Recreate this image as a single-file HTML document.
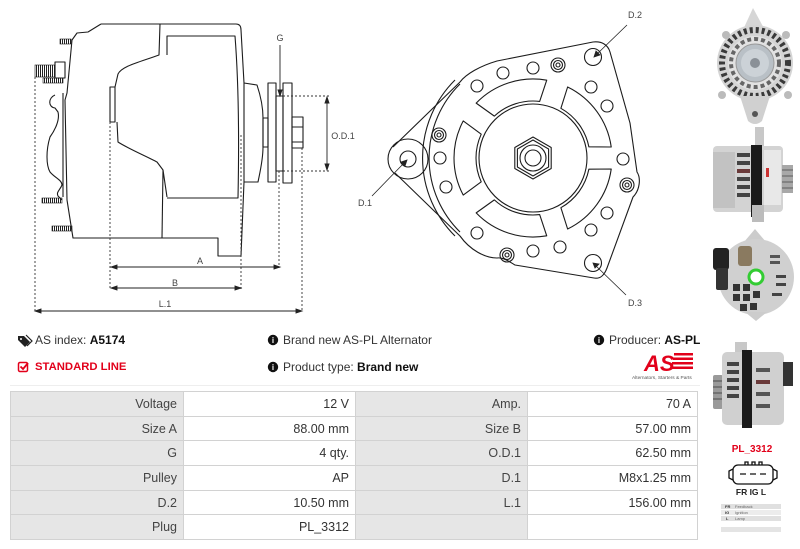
<!DOCTYPE html>
<html><head><meta charset="utf-8">
<style>
html,body{margin:0;padding:0;background:#fff;}
#p{position:relative;width:800px;height:549px;overflow:hidden;font-family:"Liberation Sans",sans-serif;background:#fff;}
.t{position:absolute;white-space:nowrap;font-size:12px;color:#333;line-height:14px;}
.t b{color:#111;}
.c{position:absolute;box-sizing:border-box;border:1px solid #d2d2d2;font-size:12.5px;display:flex;align-items:center;justify-content:flex-end;padding-right:6px;color:#444;}
.l{background:#e6e6e6;}
.v{background:#fff;color:#333;}
</style></head><body><div id="p">
<svg width="800" height="549" viewBox="0 0 800 549" style="position:absolute;left:0;top:0" xmlns="http://www.w3.org/2000/svg">
<defs>
<pattern id="th" width="2" height="4" patternUnits="userSpaceOnUse"><rect width="1" height="4" fill="#222"/></pattern>
</defs>
<!-- LEFT DRAWING -->
<g fill="none" stroke="#1c1c1c" stroke-width="1.1" stroke-linejoin="round">
<path d="M101,24 L236,24 Q241,24 241,30 L244,83"/>
<path d="M244,182 L241,256 L218,256 L218,238 L73,238 L67,200 L65,100 L67,93 L72,40 L77,33 L88,32 L101,24"/>
<path d="M160,24 L159,55 C140,62 122,66 118,74 L115,87"/>
<rect x="110" y="87" width="5" height="35"/>
<path d="M117,122 L118,142 C127,148 150,158 157,162 L163,170 L167,197"/>
<path d="M163,170 L162,238"/>
<path d="M167,55 L167,36 L235,36 Q240,100 238,198 L167,198"/>
<path d="M244,83 L257,85 C262,100 263,110 263,118 L263,147 C263,160 260,172 258,182 L244,182 Z"/>
<rect x="263" y="118" width="5" height="29"/>
<rect x="268" y="83" width="8" height="99"/>
<rect x="276" y="96" width="7" height="75"/>
<rect x="283" y="83" width="9" height="100"/>
<rect x="292" y="117" width="11" height="31"/>
<path d="M292,127 L303,127 M292,142 L303,142"/>
<path d="M63,93 L63,197"/>
<path d="M55,95 C48,98 48,107 55,108 L58,112 C60,120 55,130 50,137 C46,150 46,165 50,172 C55,178 62,180 62,185 C60,190 56,192 58,196 L62,200"/>
<rect x="55" y="62" width="10" height="16"/>
</g>
<g stroke="#1c1c1c" stroke-width="0.6">
<rect x="60" y="39" width="11" height="5" fill="url(#th)"/>
<rect x="35" y="65" width="20" height="12" fill="url(#th)"/>
<rect x="43" y="78" width="20" height="5" fill="url(#th)"/>
<rect x="42" y="198" width="20" height="5" fill="url(#th)"/>
<rect x="52" y="226" width="20" height="5" fill="url(#th)"/>
</g>
<g fill="none" stroke="#333" stroke-width="0.9" stroke-dasharray="2,2">
<path d="M35,77 L35,312 M110,122 L110,290 M241,135 L241,290 M279,171 L279,268 M302,148 L302,312 M283,96 L330,96 M283,171 L330,171"/>
</g>
<g stroke="#222" stroke-width="0.9" fill="#222">
<path d="M113,267 L278,267 M113,288 L239,288 M37,311 L300,311 M280,45 L280,93 M327,99 L327,168" fill="none"/>
<polygon points="111,267 117,265 117,269"/><polygon points="280,267 274,265 274,269"/>
<polygon points="111,288 117,286 117,290"/><polygon points="241,288 235,286 235,290"/>
<polygon points="35,311 41,309 41,313"/><polygon points="302,311 296,309 296,313"/>
<polygon points="280,96 278,90 282,90"/>
<polygon points="327,97 325,103 329,103"/><polygon points="327,170 325,164 329,164"/>
</g>
<g font-family="Liberation Sans, sans-serif" font-size="9" fill="#444" text-anchor="middle">
<text x="280" y="41">G</text>
<text x="200" y="264">A</text>
<text x="175" y="286">B</text>
<text x="165" y="307">L.1</text>
<text x="343" y="139">O.D.1</text>
<text x="635" y="18">D.2</text>
<text x="365" y="206">D.1</text>
<text x="635" y="306">D.3</text>
</g>
<!-- MIDDLE DRAWING -->
<g fill="none" stroke="#1c1c1c" stroke-width="1.1" stroke-linejoin="round">
<path d="M393,147 L460,82 C466,74 480,66 497,61 L593,42 C602,41 608,45 610,52 L630,123 L637,172 C641,178 640,190 633,197 L607,268 C604,276 600,279 594,278 L515,265 C510,262 503,257 497,258 C485,258 470,250 460,236 L395,173"/>
<circle cx="408" cy="159" r="20"/>
<circle cx="408" cy="159" r="8"/>
<path d="M460,84 A104,104 0 0,0 460,232"/>
<path d="M455,80 A110,110 0 0,0 455,236"/>
<circle cx="533" cy="158" r="54"/>
<g transform="translate(533,158)">
<path d="M0,-21 L18.2,-10.5 L18.2,10.5 L0,21 L-18.2,10.5 L-18.2,-10.5 Z"/>
<path d="M0,-18 L15.6,-9 L15.6,9 L0,18 L-15.6,9 L-15.6,-9 Z"/>
<circle r="13"/><circle r="8"/>
<path d="M69.75,-37.09 A79,79 0 0,1 69.75,37.09 L51.78,23.82 A57,57 0 0,0 51.78,-23.82 Z" transform="rotate(180)"/>
<path d="M69.75,-37.09 A79,79 0 0,1 69.75,37.09 L51.78,23.82 A57,57 0 0,0 51.78,-23.82 Z" transform="rotate(252)"/>
<path d="M69.75,-37.09 A79,79 0 0,1 69.75,37.09 L51.78,23.82 A57,57 0 0,0 51.78,-23.82 Z" transform="rotate(324)"/>
<path d="M69.75,-37.09 A79,79 0 0,1 69.75,37.09 L51.78,23.82 A57,57 0 0,0 51.78,-23.82 Z" transform="rotate(36)"/>
<path d="M69.75,-37.09 A79,79 0 0,1 69.75,37.09 L51.78,23.82 A57,57 0 0,0 51.78,-23.82 Z" transform="rotate(108)"/>
</g>
<circle cx="503" cy="73" r="6"/><circle cx="533" cy="68" r="6"/><circle cx="477" cy="86" r="6"/>
<circle cx="591" cy="87" r="6"/><circle cx="607" cy="106" r="6"/><circle cx="440" cy="158" r="6"/>
<circle cx="446" cy="187" r="6"/><circle cx="623" cy="159" r="6"/><circle cx="607" cy="213" r="6"/>
<circle cx="591" cy="230" r="6"/><circle cx="477" cy="233" r="6"/><circle cx="533" cy="251" r="6"/>
<circle cx="560" cy="247" r="6"/>
<circle cx="558" cy="65" r="7"/><circle cx="558" cy="65" r="4.5"/><circle cx="558" cy="65" r="2"/>
<circle cx="439" cy="135" r="7"/><circle cx="439" cy="135" r="4.5"/><circle cx="439" cy="135" r="2"/>
<circle cx="627" cy="185" r="7"/><circle cx="627" cy="185" r="4.5"/><circle cx="627" cy="185" r="2"/>
<circle cx="507" cy="255" r="7"/><circle cx="507" cy="255" r="4.5"/><circle cx="507" cy="255" r="2"/>
<circle cx="593" cy="57" r="8.5"/><circle cx="593" cy="263" r="8.5"/>
</g>
<g stroke="#222" stroke-width="0.8" fill="#222">
<path d="M627,25 L596,55 M372,196 L405,162 M626,295 L595,265" fill="none"/>
<polygon points="594,57 596,51 600,55"/>
<polygon points="407,160 401,162 405,166"/>
<polygon points="593,263 599,264 595,268"/>
</g>
<!-- PHOTOS -->
<g>
<path d="M742,32 L753,8 L766,32 Z" fill="#d6d6d6"/>
<circle cx="755" cy="63" r="38" fill="#d4d4d4"/>
<circle cx="755" cy="63" r="33" fill="none" stroke="#3a3a3a" stroke-width="6" stroke-dasharray="3,3"/>
<circle cx="755" cy="63" r="27" fill="#e2e2e2"/>
<circle cx="755" cy="63" r="24" fill="none" stroke="#666" stroke-width="4" stroke-dasharray="4,3"/>
<circle cx="755" cy="63" r="19" fill="#b9c0c6" stroke="#999"/>
<circle cx="755" cy="63" r="14" fill="#ccd2d7"/>
<circle cx="755" cy="63" r="5" fill="#8a9097"/>
<path d="M740,96 L770,96 L762,121 Q755,127 748,121 Z" fill="#d0d0d0"/>
<circle cx="755" cy="114" r="3" fill="#555"/>
<circle cx="726" cy="35" r="4" fill="#bbb"/><circle cx="786" cy="35" r="4" fill="#bbb"/>
<circle cx="722" cy="95" r="4" fill="#bbb"/><circle cx="788" cy="95" r="4" fill="#bbb"/>
</g>
<g>
<rect x="755" y="127" width="9" height="22" fill="#c8c8c8"/>
<rect x="713" y="146" width="70" height="66" rx="4" fill="#d3d3d3"/>
<rect x="713" y="152" width="22" height="56" fill="#c2c2c2"/>
<rect x="737" y="153" width="13" height="4" fill="#444"/><rect x="737" y="161" width="13" height="4" fill="#444"/>
<rect x="737" y="169" width="13" height="4" fill="#6a3a3a"/><rect x="737" y="177" width="13" height="4" fill="#444"/>
<rect x="737" y="185" width="13" height="4" fill="#444"/><rect x="737" y="193" width="13" height="4" fill="#444"/>
<rect x="751" y="145" width="11" height="72" fill="#1a1a1a"/>
<rect x="764" y="150" width="17" height="55" fill="#e8e8e8"/>
<rect x="766" y="168" width="3" height="9" fill="#c33"/>
<rect x="782" y="165" width="11" height="28" fill="#a8a8a8"/>
<path d="M782,170 L793,170 M782,176 L793,176 M782,182 L793,182 M782,188 L793,188" stroke="#777" stroke-width="1.5"/>
<rect x="752" y="205" width="12" height="17" fill="#bcbcbc"/>
</g>
<g>
<path d="M744,242 L755,229 L766,242 Z" fill="#ccc"/>
<circle cx="756" cy="277" r="38" fill="#d0d0d0"/>
<rect x="713" y="248" width="16" height="22" rx="3" fill="#222"/>
<rect x="716" y="268" width="12" height="22" rx="2" fill="#333"/>
<rect x="738" y="246" width="14" height="20" rx="3" fill="#8a7a60"/>
<circle cx="756" cy="277" r="7" fill="#fff" stroke="#3c3" stroke-width="3"/>
<rect x="733" y="284" width="7" height="7" fill="#333"/><rect x="743" y="284" width="7" height="7" fill="#333"/>
<rect x="733" y="294" width="7" height="7" fill="#333"/><rect x="743" y="294" width="7" height="7" fill="#333"/>
<rect x="753" y="291" width="7" height="7" fill="#333"/><rect x="740" y="304" width="7" height="7" fill="#333"/>
<rect x="750" y="303" width="7" height="7" fill="#333"/>
<rect x="770" y="255" width="10" height="3" fill="#555"/><rect x="770" y="261" width="10" height="3" fill="#555"/>
<rect x="776" y="275" width="10" height="3" fill="#444"/><rect x="776" y="283" width="10" height="3" fill="#444"/>
<rect x="772" y="293" width="10" height="3" fill="#444"/>
<path d="M745,312 L767,312 L756,321 Z" fill="#ccc"/>
</g>
<g>
<rect x="735" y="342" width="12" height="12" fill="#c8c8c8"/>
<rect x="713" y="375" width="10" height="34" rx="2" fill="#9a9a9a"/>
<path d="M713,381 L723,381 M713,387 L723,387 M713,393 L723,393 M713,399 L723,399" stroke="#666" stroke-width="1.5"/>
<rect x="722" y="352" width="62" height="73" rx="5" fill="#d0d0d0"/>
<rect x="727" y="362" width="12" height="4" fill="#444"/><rect x="727" y="370" width="12" height="4" fill="#444"/>
<rect x="727" y="378" width="12" height="4" fill="#444"/><rect x="727" y="386" width="12" height="4" fill="#444"/>
<rect x="727" y="394" width="12" height="4" fill="#444"/>
<rect x="742" y="350" width="10" height="78" fill="#1a1a1a"/>
<rect x="756" y="368" width="14" height="4" fill="#555"/><rect x="756" y="380" width="14" height="4" fill="#6a3a3a"/>
<rect x="756" y="392" width="14" height="4" fill="#555"/><rect x="756" y="404" width="14" height="4" fill="#555"/>
<rect x="783" y="362" width="10" height="24" fill="#333"/>
</g>
<!-- CONNECTOR -->
<text x="752" y="452" font-family="Liberation Sans, sans-serif" font-size="10" font-weight="bold" fill="#e2001a" text-anchor="middle">PL_3312</text>
<g fill="none" stroke="#111" stroke-width="1.3">
<rect x="733" y="465" width="40" height="19" rx="5" fill="#fff"/>
<path d="M733,469 L729,471 L729,478 L733,480 M773,469 L777,471 L777,478 L773,480"/>
<path d="M745,465 L745,462 L748,462 L748,465 M752,465 L752,462 L755,462 L755,465 M759,465 L759,462 L762,462 L762,465"/>
<path d="M740,474 L746,474 M750,474 L756,474 M760,474 L766,474"/>
</g>
<text x="751" y="495" font-family="Liberation Sans, sans-serif" font-size="8.5" font-weight="bold" fill="#222" text-anchor="middle">FR IG L</text>
<g font-family="Liberation Sans, sans-serif" font-size="4" fill="#666">
<rect x="721" y="504" width="60" height="5" fill="#e0e0e0"/>
<rect x="721" y="510" width="60" height="5" fill="#ececec"/>
<rect x="721" y="516" width="60" height="5" fill="#e0e0e0"/>
<rect x="721" y="527" width="60" height="5" fill="#e4e4e4"/>
<text x="725" y="508" font-weight="bold" fill="#333">FR</text><text x="735" y="508">Feedback</text>
<text x="725" y="514" font-weight="bold" fill="#333">IG</text><text x="735" y="514">Ignition</text>
<text x="726" y="520" font-weight="bold" fill="#333">L</text><text x="735" y="520">Lamp</text>
</g>
<!-- ICONS -->
<path d="M18,336 L24,336 L30,342 L25,347 L18,340 Z" fill="#222"/>
<circle cx="21" cy="339" r="1" fill="#fff"/>
<path d="M26,335 L32,341 L27,346" fill="none" stroke="#222" stroke-width="1.2"/>
<rect x="18.5" y="362.5" width="9" height="9" rx="1.5" fill="none" stroke="#e2001a" stroke-width="1.5"/>
<path d="M20.5,366.5 L23,369 L28,363" fill="none" stroke="#e2001a" stroke-width="1.8"/>
<g fill="#111"><circle cx="273" cy="340" r="5.2"/><circle cx="273" cy="367" r="5.2"/><circle cx="599" cy="340" r="5.2"/></g>
<g fill="#fff" font-family="Liberation Sans, sans-serif" font-size="8" font-weight="bold" text-anchor="middle">
<text x="273" y="343">i</text><text x="273" y="370">i</text><text x="599" y="343">i</text></g>
<!-- AS logo -->
<text x="644" y="371" font-family="Liberation Sans, sans-serif" font-size="22" font-weight="bold" font-style="italic" fill="#e2001a">AS</text>
<g fill="#e2001a"><rect x="674" y="353" width="19" height="2.5"/><rect x="673" y="357.5" width="20" height="2.5"/><rect x="672" y="362" width="21" height="2.5"/><rect x="671" y="366.5" width="22" height="2.5"/></g>
<text x="632" y="379" font-family="Liberation Sans, sans-serif" font-size="4.8" fill="#555">Alternators, Starters &amp; Parts</text>
<rect x="10" y="385" width="690" height="1" fill="#eeeeee"/>
</svg>

<div class="t" style="left:35px;top:333px;">AS index: <b>A5174</b></div>
<div class="t" style="left:35px;top:360px;font-size:11.3px;font-weight:bold;color:#e2001a;">STANDARD LINE</div>
<div class="t" style="left:283px;top:333px;">Brand new AS-PL Alternator</div>
<div class="t" style="left:283px;top:360px;">Product type: <b>Brand new</b></div>
<div class="t" style="left:609px;top:333px;">Producer: <b>AS-PL</b></div>

<!-- TABLE -->
<div class="c l" style="left:10px;top:391px;width:174px;height:26px;">Voltage</div>
<div class="c v" style="left:183px;top:391px;width:173px;height:26px;">12 V</div>
<div class="c l" style="left:355px;top:391px;width:173px;height:26px;">Amp.</div>
<div class="c v" style="left:527px;top:391px;width:171px;height:26px;">70 A</div>

<div class="c l" style="left:10px;top:416px;width:174px;height:25px;">Size A</div>
<div class="c v" style="left:183px;top:416px;width:173px;height:25px;">88.00 mm</div>
<div class="c l" style="left:355px;top:416px;width:173px;height:25px;">Size B</div>
<div class="c v" style="left:527px;top:416px;width:171px;height:25px;">57.00 mm</div>

<div class="c l" style="left:10px;top:440px;width:174px;height:26px;">G</div>
<div class="c v" style="left:183px;top:440px;width:173px;height:26px;">4 qty.</div>
<div class="c l" style="left:355px;top:440px;width:173px;height:26px;">O.D.1</div>
<div class="c v" style="left:527px;top:440px;width:171px;height:26px;">62.50 mm</div>

<div class="c l" style="left:10px;top:465px;width:174px;height:26px;">Pulley</div>
<div class="c v" style="left:183px;top:465px;width:173px;height:26px;">AP</div>
<div class="c l" style="left:355px;top:465px;width:173px;height:26px;">D.1</div>
<div class="c v" style="left:527px;top:465px;width:171px;height:26px;">M8x1.25 mm</div>

<div class="c l" style="left:10px;top:490px;width:174px;height:25px;">D.2</div>
<div class="c v" style="left:183px;top:490px;width:173px;height:25px;">10.50 mm</div>
<div class="c l" style="left:355px;top:490px;width:173px;height:25px;">L.1</div>
<div class="c v" style="left:527px;top:490px;width:171px;height:25px;">156.00 mm</div>

<div class="c l" style="left:10px;top:514px;width:174px;height:26px;">Plug</div>
<div class="c v" style="left:183px;top:514px;width:173px;height:26px;">PL_3312</div>
<div class="c l" style="left:355px;top:514px;width:173px;height:26px;"></div>
<div class="c v" style="left:527px;top:514px;width:171px;height:26px;"></div>
</div></body></html>
